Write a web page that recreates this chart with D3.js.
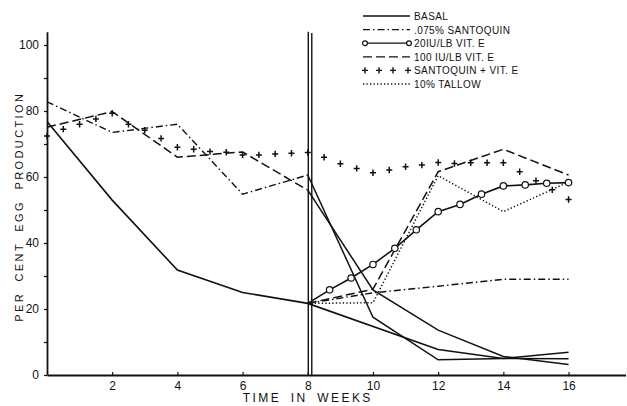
<!DOCTYPE html>
<html>
<head>
<meta charset="utf-8">
<script src="https://cdnjs.cloudflare.com/ajax/libs/d3/7.8.5/d3.min.js"></script>
<style>
  body { margin: 0; background: #fff; }
  text { font-family: "Liberation Sans", Arial, sans-serif; fill: #111; }
</style>
</head>
<body>
<div id="chart"></div>
<script>

// values (per cent egg production by week)
const basalWeeks = [0, 2, 4, 6, 8, 12, 14, 16];
const basal = [76.8, 53, 31.8, 25, 21.7, 7.7, 5, 6.9];

const santoquinWeeks = [0, 2, 4, 6, 8];
const santoquin = [82.8, 73.5, 76, 54.8, 60.6];
const santoquinLateWeeks = [8, 10, 12, 14, 16];
const santoquinLate = [21.7, 24.9, 26.9, 29, 29];

const vitE20Weeks = [8, 8.67, 9.33, 10, 10.67, 11.33, 12, 12.67, 13.33, 14, 14.67, 15.33, 16];
const vitE20 = [21.7, 25.8, 29.4, 33.5, 38.4, 44, 49.5, 51.7, 54.8, 57.3, 57.6, 58.1, 58.3];

const vitE100Weeks = [0, 2, 4, 6, 8];
const vitE100 = [75.1, 79.8, 66, 67.6, 56];
const vitE100LateWeeks = [8, 10, 12, 14, 16];
const vitE100Late = [21.7, 26, 61.6, 68.4, 60.6];

// groups put back on the basal ration at week 8
const toBasalWeeks = [8, 10, 12, 14, 16];
const santoquinToBasal = [60.6, 17.5, 4.6, 5, 4.9];
const vitE100ToBasal = [56, 25.8, 13.6, 5.6, 3.2];

const comboWeeks = d3.range(0, 16.5, 0.5);
const combo = [72.4, 74.5, 76, 77.6, 79.3, 76, 74.2, 71.7, 69, 68.4, 67.7, 67.5, 66.7, 66.7, 67, 67.2,
  67.4, 66, 64, 62.6, 61.3, 62.1, 63.1, 63.6, 64.4, 64.1, 64.3, 64.3, 64.3, 61.6, 58.9, 56.1, 53.2];

const tallowWeeks = [8, 10, 12, 14, 16];
const tallow = [21.7, 21.9, 60.4, 49.5, 58.5];

const xTicks = [2, 4, 6, 8, 10, 12, 14, 16];
const yTicks = [0, 10, 20, 30, 40, 50, 60, 70, 80, 90, 100];

const legendLabels = ["BASAL", ".075% SANTOQUIN", "20IU/LB  VIT. E", "100 IU/LB  VIT. E", "SANTOQUIN + VIT. E", "10%  TALLOW"];

let width = 627, height = 406;

let x = d3.scaleLinear().domain([0, 17.75]).range([47, 625.6]);
let y = d3.scaleLinear().domain([0, 104]).range([375, 31.8]);

let svg = d3.select("#chart")
  .append("svg")
  .attr("width", width)
  .attr("height", height);

const ink = "#111";
const styles = {
  solid: null,
  dashdot: "7,3,1.5,3",
  dashed: "9,4",
  dotted: "1.3,2.2"
};

let line = d3.line()
  .x(d => x(d[0]))
  .y(d => y(d[1]));

function pairs(w, v) { return w.map((d, i) => [d, v[i]]); }

let series = [
  { pts: pairs(basalWeeks, basal), dash: styles.solid, w: 1.6 },
  { pts: pairs(toBasalWeeks, santoquinToBasal), dash: styles.solid, w: 1.5 },
  { pts: pairs(toBasalWeeks, vitE100ToBasal), dash: styles.solid, w: 1.5 },
  { pts: pairs(santoquinWeeks, santoquin), dash: styles.dashdot, w: 1.4 },
  { pts: pairs(santoquinLateWeeks, santoquinLate), dash: styles.dashdot, w: 1.4 },
  { pts: pairs(vitE100Weeks, vitE100), dash: styles.dashed, w: 1.5 },
  { pts: pairs(vitE100LateWeeks, vitE100Late), dash: styles.dashed, w: 1.5 },
  { pts: pairs(tallowWeeks, tallow), dash: styles.dotted, w: 1.5 },
  { pts: pairs(vitE20Weeks, vitE20), dash: styles.solid, w: 1.6 }
];

// axes
let xAxis = svg.append("g")
  .attr("transform", "translate(0," + y(0) + ")")
  .call(d3.axisBottom(x).tickValues(xTicks).tickSize(-3).tickPadding(6).tickSizeOuter(0));
xAxis.selectAll("text").style("font-size", "12px");

let yAxis = svg.append("g")
  .attr("transform", "translate(" + x(0) + ",0)")
  .call(d3.axisLeft(y).tickValues(yTicks).tickSize(3).tickPadding(5).tickSizeOuter(0)
    .tickFormat(d => d % 20 === 0 ? d : ""));
yAxis.selectAll("text").style("font-size", "12px");

svg.selectAll(".domain").attr("stroke", ink).attr("stroke-width", 1.8);
svg.selectAll(".tick line").attr("stroke", ink).attr("stroke-width", 1.2);
svg.selectAll(".tick text").style("fill", ink);

svg.append("text")
  .attr("x", x(8))
  .attr("y", 402)
  .style("text-anchor", "middle")
  .style("font-size", "12px")
  .style("letter-spacing", "2.4px")
  .style("word-spacing", "4px")
  .text("TIME IN WEEKS");

svg.append("text")
  .attr("transform", "translate(23," + y(51) + ") rotate(-90)")
  .style("text-anchor", "middle")
  .style("font-size", "11px")
  .style("letter-spacing", "2.4px")
  .style("word-spacing", "5px")
  .text("PER CENT EGG PRODUCTION");

// double rule at the week-8 change of diet
svg.append("line")
  .attr("x1", x(8) + 0.5).attr("x2", x(8) + 0.5)
  .attr("y1", y(0)).attr("y2", 31.7)
  .attr("stroke", ink).attr("stroke-width", 1.4);
svg.append("line")
  .attr("x1", x(8) + 4).attr("x2", x(8) + 4)
  .attr("y1", y(0)).attr("y2", 33)
  .attr("stroke", ink).attr("stroke-width", 1.4);

// series lines
svg.selectAll("path.series")
  .data(series)
  .enter()
  .append("path")
  .attr("class", "series")
  .attr("d", d => line(d.pts))
  .attr("fill", "none")
  .attr("stroke", ink)
  .attr("stroke-width", d => d.w)
  .attr("stroke-dasharray", d => d.dash);

// open circles on the 20 IU line
svg.selectAll("circle.vite")
  .data(pairs(vitE20Weeks, vitE20).slice(1))
  .enter()
  .append("circle")
  .attr("class", "vite")
  .attr("cx", d => x(d[0]))
  .attr("cy", d => y(d[1]))
  .attr("r", 3.2)
  .attr("fill", "#fff")
  .attr("stroke", ink)
  .attr("stroke-width", 1.2);

// santoquin + vit E plotted as crosses only
const plus = "M-3,0H3M0,-3.2V3.2";
svg.selectAll("path.combo")
  .data(pairs(comboWeeks, combo))
  .enter()
  .append("path")
  .attr("class", "combo")
  .attr("transform", d => "translate(" + x(d[0]) + "," + y(d[1]) + ")")
  .attr("d", plus)
  .attr("stroke", ink)
  .attr("stroke-width", 1.5);

// legend
let legend = svg.append("g").attr("transform", "translate(363,16)");
const rowGap = 13.6;
const legendDash = [styles.solid, styles.dashdot, styles.solid, styles.dashed, null, styles.dotted];

legendLabels.forEach(function (label, i) {
  let row = legend.append("g").attr("transform", "translate(0," + i * rowGap + ")");
  if (i !== 4) {
    row.append("line")
      .attr("x1", 0).attr("x2", 47)
      .attr("stroke", ink)
      .attr("stroke-width", 1.3)
      .attr("stroke-dasharray", legendDash[i]);
  }
  if (i === 2) {
    [2, 46].forEach(function (cx) {
      row.append("circle").attr("cx", cx).attr("r", 2.4)
        .attr("fill", "#fff").attr("stroke", ink).attr("stroke-width", 1.2);
    });
  }
  if (i === 4) {
    [2, 16, 30, 45].forEach(function (px) {
      row.append("path").attr("transform", "translate(" + px + ",0)")
        .attr("d", plus).attr("stroke", ink).attr("stroke-width", 1.4);
    });
  }
  row.append("text")
    .attr("x", 51)
    .attr("y", 4)
    .style("font-size", "10px")
    .style("letter-spacing", "0.4px")
    .text(label);
});

</script>
</body>
</html>
